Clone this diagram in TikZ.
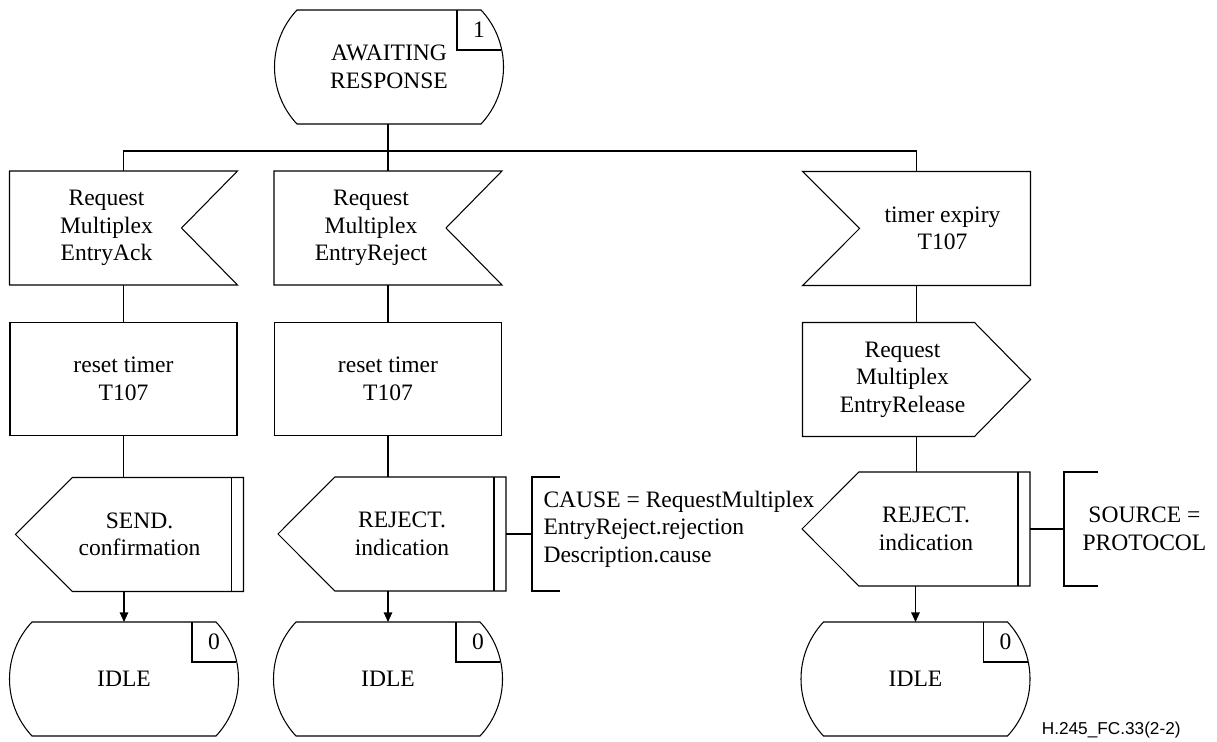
\documentclass[tikz,border=0pt]{standalone}
\usepackage{fontspec}
\setmainfont{Liberation Serif}
\newfontfamily\captionfont{Liberation Sans}
\usetikzlibrary{arrows.meta,calc}

\tikzset{
  sdltext/.style={font=\fontsize{13.4}{15.6}\selectfont,align=center,inner sep=0pt},
  sdlbox/.style={sdltext,minimum width=4.54cm,minimum height=2.26cm},
  flow/.style={-{Triangle[length=0.19cm,width=0.17cm]}},
}

% state: flat top and bottom, round sides, number box top right
\newcommand{\sdlstate}[2]{%
  \draw ($(#1.north west)+(22,0)$) -- ($(#1.north east)+(-22,0)$)
    .. controls +(30,32) and +(30,-32) .. ($(#1.south east)+(-22,0)$)
    -- ($(#1.south west)+(22,0)$)
    .. controls +(-30,-32) and +(-30,32) .. ($(#1.north west)+(22,0)$) -- cycle;
  \draw ($(#1.north east)+(-46,0)$) |- ($(#1.north east)+(-2,40)$);
  \node[sdltext] (#1-n) at ($(#1.north east)+(-24,20)$) {#2};}
% input, notch on the right
\newcommand{\sdlinput}[2]{%
  \draw (#1.north west) -- (#1.north east) -- ($(#1.east)+(-56,0)$)
    -- (#1.south east) -- (#1.south west) -- cycle;
  \node[sdltext] (#1-t) at ($(#1.center)+(-17,0)$) {#2};}
% timer input, notch on the left
\newcommand{\sdltimer}[2]{%
  \draw (#1.north west) -- (#1.north east) -- (#1.south east)
    -- (#1.south west) -- ($(#1.west)+(57,0)$) -- cycle;
  \node[sdltext] (#1-t) at ($(#1.center)+(26,0)$) {#2};}
% output, point on the right
\newcommand{\sdlsignal}[2]{%
  \draw (#1.north west) -- ($(#1.north east)+(-56,0)$) -- (#1.east)
    -- ($(#1.south east)+(-56,0)$) -- (#1.south west) -- cycle;
  \node[sdltext] (#1-t) at ($(#1.center)+(-14,0)$) {#2};}
% output to upper layer, point on the left, bar on the right
\newcommand{\sdlindication}[2]{%
  \draw (#1.west) -- ($(#1.north west)+(57,0)$) -- (#1.north east)
    -- (#1.south east) -- ($(#1.south west)+(57,0)$) -- cycle;
  \draw ($(#1.north east)+(-12,0)$) -- ($(#1.south east)+(-12,0)$);
  \node[sdltext] (#1-t) at ($(#1.center)+(10,0)$) {#2};}

\begin{document}
\begin{tikzpicture}[x=0.02cm,y=-0.02cm,line width=0.6pt]
  \useasboundingbox (0,0) rectangle (1217,742);

  \node[sdlbox] (aw) at (389,67) {AWAITING\\RESPONSE};
  \sdlstate{aw}{1}

  % inputs
  \node[sdlbox] (in1) at (123.5,228) {};
  \sdlinput{in1}{Request\\Multiplex\\EntryAck}
  \node[sdlbox] (in2) at (388,228) {};
  \sdlinput{in2}{Request\\Multiplex\\EntryReject}
  \node[sdlbox] (in3) at (916.5,228.5) {};
  \sdltimer{in3}{timer expiry\\T107}

  % tasks and output
  \foreach \n/\x in {t1/123.5,t2/388}
    \node[sdlbox,draw] (\n) at (\x,379) {reset timer\\T107};
  \node[sdlbox] (o3) at (916.5,379.5) {};
  \sdlsignal{o3}{Request\\Multiplex\\EntryRelease}

  % indications
  \node[sdlbox] (s1) at (129.5,534.5) {};
  \sdlindication{s1}{SEND.\\confirmation}
  \node[sdlbox] (s2) at (392,534) {};
  \sdlindication{s2}{REJECT.\\indication}
  \node[sdlbox] (s3) at (916,529) {};
  \sdlindication{s3}{REJECT.\\indication}

  % next states
  \foreach \n/\x in {idleA/124,idleB/388,idleC/915.5}{
    \node[sdlbox] (\n) at (\x,679) {IDLE};
    \sdlstate{\n}{0}
  }

  % comments
  \node[sdltext,anchor=west,align=left,inner xsep=0.22cm] (c2) at (532,529)
    {CAUSE = RequestMultiplex\\EntryReject.rejection\\Description.cause};
  \node[sdltext,anchor=west,inner xsep=0.36cm] (c3) at (1064,529) {SOURCE =\\PROTOCOL};
  \draw ($(c2.west |- s2.north)+(28,0)$) -- (c2.west |- s2.north)
    -- (c2.west |- s2.south) -- ++(28,0);
  \draw ($(c3.west |- s3.north)+(34,0)$) -- (c3.west |- s3.north)
    -- (c3.west |- s3.south) -- ++(34,0);
  \draw (s2.east) -- (s2.east -| c2.west);
  \draw (s3.east) -- (s3.east -| c3.west);

  % flow lines
  \draw (in2.north |- aw.south) -- (in2.north);
  \draw (in1.north) -- ++(0,-20) -| (in3.north);
  \draw (in1.south) -- (t1.north);
  \draw (in2.south) -- (t2.north);
  \draw (in3.south) -- (o3.north);
  \draw (t1.south) -- (t1.south |- s1.north);
  \draw (t2.south) -- (t2.south |- s2.north);
  \draw (o3.south) -- (o3.south |- s3.north);
  \draw[flow] (idleA.north |- s1.south) -- (idleA.north);
  \draw[flow] (idleB.north |- s2.south) -- (idleB.north);
  \draw[flow] (idleC.north |- s3.south) -- (idleC.north);

  \node[font=\captionfont\fontsize{9.8}{11}\selectfont,anchor=east] (fig) at (1187,730)
    {H.245\_FC.33(2-2)};
\end{tikzpicture}
\end{document}
